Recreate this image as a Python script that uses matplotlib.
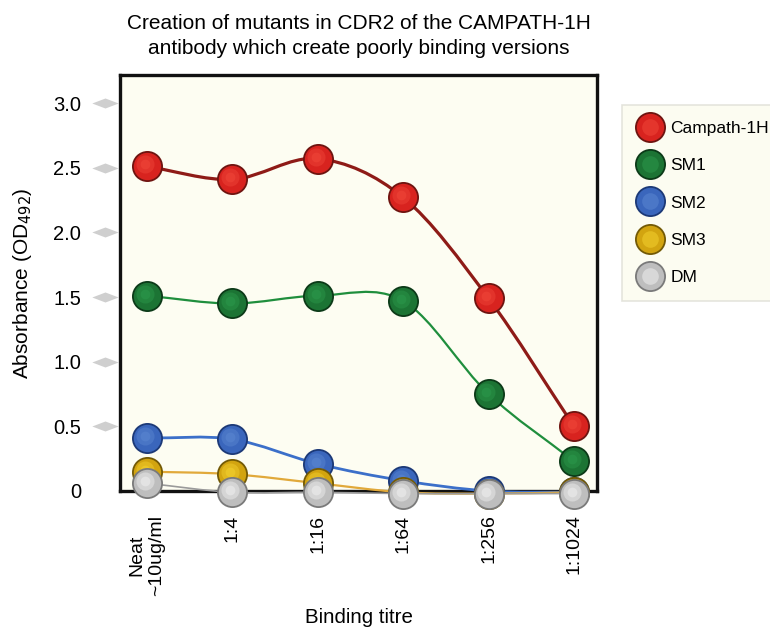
import matplotlib.pyplot as plt
import numpy as np
from matplotlib.path import Path
from matplotlib.patches import PathPatch
from matplotlib.lines import Line2D
from matplotlib.legend_handler import HandlerTuple
from matplotlib.transforms import offset_copy

plt.rcParams['font.family'] = ['Liberation Sans', 'DejaVu Sans']

titres = ['Neat\n~10ug/ml', '1:4', '1:16', '1:64', '1:256', '1:1024']
yticks = [0, 0.5, 1.0, 1.5, 2.0, 2.5, 3.0]
ytick_labels = ['0', '0.5', '1.0', '1.5', '2.0', '2.5', '3.0']

series_names = ['Campath-1H', 'SM1', 'SM2', 'SM3', 'DM']
campath = [2.51, 2.41, 2.57, 2.27, 1.49, 0.50]
sm1 = [1.51, 1.45, 1.51, 1.47, 0.75, 0.23]
sm2 = [0.41, 0.40, 0.21, 0.08, 0.00, -0.01]
sm3 = [0.15, 0.13, 0.06, -0.01, -0.02, -0.01]
dm = [0.06, -0.01, -0.01, -0.02, -0.02, -0.02]

# line colour, marker face, marker edge, highlight, line width
styles = {
    'Campath-1H': ('#8E1B17', '#D8231F', '#6E1410', '#F0483A', 2.3),
    'SM1': ('#1F8E3D', '#1C7434', '#0C3A18', '#2C9A4C', 1.6),
    'SM2': ('#3B6FC9', '#3A66BC', '#1C3977', '#5C88D2', 2.0),
    'SM3': ('#E1A93A', '#D2A410', '#735A06', '#F4D230', 1.6),
    'DM': ('#9A9A9A', '#BEBEBE', '#7A7A7A', '#F2F2F2', 1.2),
}


def smooth_path(x, y):
    """Catmull-Rom curve through the points, as a bezier path."""
    x = np.asarray(x, float)
    y = np.asarray(y, float)
    pts = np.column_stack([x, y])
    ext = np.vstack([2 * pts[0] - pts[1], pts, 2 * pts[-1] - pts[-2]])
    verts = [pts[0]]
    codes = [Path.MOVETO]
    for i in range(1, len(ext) - 2):
        p0, p1, p2, p3 = ext[i - 1], ext[i], ext[i + 1], ext[i + 2]
        verts += [p1 + (p2 - p0) / 6, p2 - (p3 - p1) / 6, p2]
        codes += [Path.CURVE4] * 3
    return Path(verts, codes)


fig = plt.figure(figsize=(7.7, 6.27), dpi=100)
ax = fig.add_axes([120 / 770, 1 - 491 / 627, 477 / 770, 416 / 627])
ax.set_facecolor('#FDFDF2')

x = np.arange(len(titres))
hl_trans = offset_copy(ax.transData, fig=fig, x=-1.5, y=1.5, units='points')

handles = []
for k, (name, vals) in enumerate(zip(series_names, [campath, sm1, sm2, sm3, dm])):
    lc, fc, ec, hc, lw = styles[name]
    z = 3 + k
    ax.add_patch(PathPatch(smooth_path(x, vals), facecolor='none', edgecolor=lc,
                           lw=lw, zorder=z, clip_on=False))
    base, = ax.plot(x, vals, ls='none', marker='o', ms=21, mfc=fc, mec=ec, mew=1.3,
                    zorder=z + 0.1, clip_on=False)
    ax.plot(x, vals, ls='none', marker='o', ms=13, mfc=hc, mec='none', alpha=0.45,
            transform=hl_trans, zorder=z + 0.2, clip_on=False)
    ax.plot(x, vals, ls='none', marker='o', ms=7, mfc=hc, mec='none', alpha=0.5,
            transform=hl_trans, zorder=z + 0.3, clip_on=False)
    hl = Line2D([], [], ls='none', marker='o', ms=12, mfc=hc, mec='none', alpha=0.5)
    handles.append((base, hl))

ax.set_xlim(-0.316, 5.27)
ax.set_ylim(0, 3.217)

for side in ['left', 'right', 'top', 'bottom']:
    ax.spines[side].set_linewidth(2.4)
    ax.spines[side].set_color('#111111')

ax.set_xticks(x)
ax.set_xticklabels(titres, rotation=90, va='top', ha='center', multialignment='center',
                   fontsize=14)
ax.tick_params(axis='x', length=0, pad=17)

ax.set_yticks(yticks)
ax.set_yticklabels(ytick_labels, fontsize=14.5)
ax.tick_params(axis='y', length=0, pad=28)

# grey diamond tick markers
diamond = [(-1, 0), (0, 0.38), (1, 0), (0, -0.38), (-1, 0)]
ax.plot([-0.031] * (len(yticks) - 1), yticks[1:], ls='none', marker=diamond, ms=19,
        color='#CFCFCF', mec='none', transform=ax.get_yaxis_transform(), clip_on=False)

ax.set_ylabel('Absorbance (OD$_{492}$)', fontsize=15, labelpad=14)
ax.set_xlabel('Binding titre', fontsize=14.8, labelpad=9)
ax.set_title('Creation of mutants in CDR2 of the CAMPATH-1H\n'
             'antibody which create poorly binding versions',
             fontsize=15, linespacing=1.38, pad=15)

leg = ax.legend(handles, series_names, handler_map={tuple: HandlerTuple(ndivide=1)},
                loc='upper left', bbox_to_anchor=(622 / 770, 1 - 105 / 627),
                bbox_transform=fig.transFigure, fontsize=12.5, frameon=True,
                fancybox=False, facecolor='#FCFCEE', edgecolor='#DEDED6',
                labelspacing=1.28, handlelength=1.4, handletextpad=0.5,
                borderpad=0.9, borderaxespad=0, markerscale=1.0)
leg.get_frame().set_linewidth(1.2)

fig.savefig('out.png', dpi=100)
